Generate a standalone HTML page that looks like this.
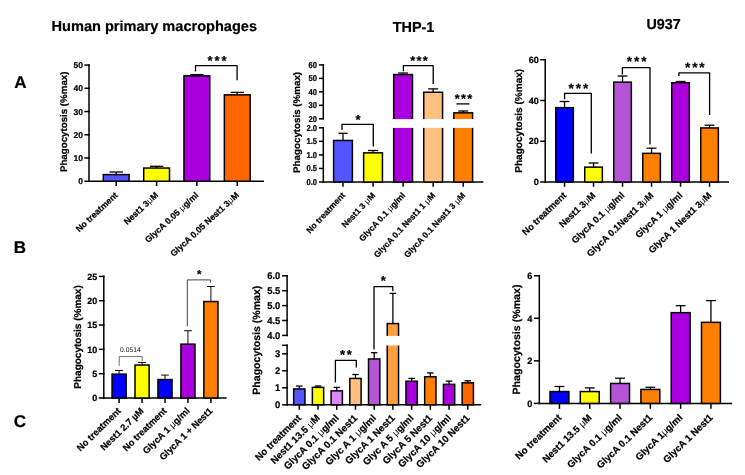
<!DOCTYPE html>
<html><head><meta charset="utf-8"><title>Phagocytosis figure</title>
<style>html,body{margin:0;padding:0;background:#fff;}svg{display:block;will-change:transform;filter:blur(0.4px);}text{text-rendering:geometricPrecision;}text[font-weight=bold]{stroke:#000;stroke-width:.22px;}tspan{stroke:none;}</style></head><body>
<svg width="745" height="475" viewBox="0 0 745 475">
<rect x="0" y="0" width="745" height="475" fill="#ffffff"/>
<text x="51.60" y="31.40" font-family="Liberation Sans, sans-serif" font-size="14.5" font-weight="bold" text-anchor="start" fill="#000" textLength="205.40" lengthAdjust="spacingAndGlyphs">Human primary macrophages</text>
<text x="392.70" y="32.30" font-family="Liberation Sans, sans-serif" font-size="14.5" font-weight="bold" text-anchor="start" fill="#000" textLength="41.70" lengthAdjust="spacingAndGlyphs">THP-1</text>
<text x="646.50" y="28.50" font-family="Liberation Sans, sans-serif" font-size="14.5" font-weight="bold" text-anchor="start" fill="#000" textLength="34.20" lengthAdjust="spacingAndGlyphs">U937</text>
<text x="14.30" y="87.70" font-family="Liberation Sans, sans-serif" font-size="17" font-weight="bold" text-anchor="start" fill="#000">A</text>
<text x="13.80" y="252.50" font-family="Liberation Sans, sans-serif" font-size="17" font-weight="bold" text-anchor="start" fill="#000">B</text>
<text x="13.80" y="427.40" font-family="Liberation Sans, sans-serif" font-size="17" font-weight="bold" text-anchor="start" fill="#000">C</text>
<g id="panelA1">
<line x1="89.00" y1="64.30" x2="89.00" y2="182.00" stroke="#000" stroke-width="1.5"/>
<line x1="84.40" y1="181.25" x2="89.75" y2="181.25" stroke="#000" stroke-width="1.5"/>
<text transform="translate(83.00,184.27) scale(1.0,1)" font-family="Liberation Sans, sans-serif" font-size="8.5" font-weight="bold" text-anchor="end">0</text>
<line x1="84.40" y1="158.01" x2="89.75" y2="158.01" stroke="#000" stroke-width="1.5"/>
<text transform="translate(83.00,161.03) scale(1.0,1)" font-family="Liberation Sans, sans-serif" font-size="8.5" font-weight="bold" text-anchor="end">10</text>
<line x1="84.40" y1="134.77" x2="89.75" y2="134.77" stroke="#000" stroke-width="1.5"/>
<text transform="translate(83.00,137.79) scale(1.0,1)" font-family="Liberation Sans, sans-serif" font-size="8.5" font-weight="bold" text-anchor="end">20</text>
<line x1="84.40" y1="111.53" x2="89.75" y2="111.53" stroke="#000" stroke-width="1.5"/>
<text transform="translate(83.00,114.55) scale(1.0,1)" font-family="Liberation Sans, sans-serif" font-size="8.5" font-weight="bold" text-anchor="end">30</text>
<line x1="84.40" y1="88.29" x2="89.75" y2="88.29" stroke="#000" stroke-width="1.5"/>
<text transform="translate(83.00,91.31) scale(1.0,1)" font-family="Liberation Sans, sans-serif" font-size="8.5" font-weight="bold" text-anchor="end">40</text>
<line x1="84.40" y1="65.05" x2="89.75" y2="65.05" stroke="#000" stroke-width="1.5"/>
<text transform="translate(83.00,68.07) scale(1.0,1)" font-family="Liberation Sans, sans-serif" font-size="8.5" font-weight="bold" text-anchor="end">50</text>
<line x1="88.25" y1="181.25" x2="264.00" y2="181.25" stroke="#000" stroke-width="1.5"/>
<line x1="116.20" y1="181.25" x2="116.20" y2="186.05" stroke="#000" stroke-width="1.5"/>
<line x1="156.60" y1="181.25" x2="156.60" y2="186.05" stroke="#000" stroke-width="1.5"/>
<line x1="196.85" y1="181.25" x2="196.85" y2="186.05" stroke="#000" stroke-width="1.5"/>
<line x1="237.25" y1="181.25" x2="237.25" y2="186.05" stroke="#000" stroke-width="1.5"/>
<line x1="116.20" y1="174.60" x2="116.20" y2="172.00" stroke="#000" stroke-width="1.3"/>
<line x1="109.50" y1="172.00" x2="122.90" y2="172.00" stroke="#000" stroke-width="1.3"/>
<rect x="103.30" y="174.60" width="25.80" height="6.65" fill="#5555ff" stroke="#000" stroke-width="1.5"/>
<line x1="156.60" y1="168.05" x2="156.60" y2="166.30" stroke="#000" stroke-width="1.3"/>
<line x1="149.90" y1="166.30" x2="163.30" y2="166.30" stroke="#000" stroke-width="1.3"/>
<rect x="143.70" y="168.05" width="25.80" height="13.20" fill="#ffff00" stroke="#000" stroke-width="1.5"/>
<line x1="196.85" y1="75.85" x2="196.85" y2="74.60" stroke="#000" stroke-width="1.3"/>
<line x1="190.15" y1="74.60" x2="203.55" y2="74.60" stroke="#000" stroke-width="1.3"/>
<rect x="183.95" y="75.85" width="25.80" height="105.40" fill="#aa00dd" stroke="#000" stroke-width="1.5"/>
<line x1="237.25" y1="94.85" x2="237.25" y2="92.40" stroke="#000" stroke-width="1.3"/>
<line x1="230.55" y1="92.40" x2="243.95" y2="92.40" stroke="#000" stroke-width="1.3"/>
<rect x="224.35" y="94.85" width="25.80" height="86.40" fill="#ff6600" stroke="#000" stroke-width="1.5"/>
<polyline points="195.50,71.50 195.50,65.70 237.10,65.70 237.10,80.30" fill="none" stroke="#000" stroke-width="1.3" stroke-linejoin="round"/>
<text x="207.51" y="64.83" font-family="Liberation Sans, sans-serif" font-size="13.0" font-weight="bold" letter-spacing="1.9">***</text>
<text transform="translate(67.00,121.80) rotate(-90)" font-family="Liberation Sans, sans-serif" font-size="9.6" font-weight="bold" text-anchor="middle" textLength="100.50" lengthAdjust="spacingAndGlyphs">Phagocytosis (%max)</text>
<text transform="translate(118.40,195.90) rotate(-43)" font-family="Liberation Sans, sans-serif" font-size="8.7" font-weight="bold" text-anchor="end">No treatment</text>
<text transform="translate(158.80,195.90) rotate(-43)" font-family="Liberation Sans, sans-serif" font-size="8.7" font-weight="bold" text-anchor="end">Nest1 3<tspan font-weight="normal">&#956;</tspan>M</text>
<text transform="translate(199.05,195.90) rotate(-43)" font-family="Liberation Sans, sans-serif" font-size="8.7" font-weight="bold" text-anchor="end">GlycA 0.05 <tspan font-weight="normal">&#956;</tspan>g/ml</text>
<text transform="translate(239.45,195.90) rotate(-43)" font-family="Liberation Sans, sans-serif" font-size="8.7" font-weight="bold" text-anchor="end">GlycA 0.05 Nest1 3<tspan font-weight="normal">&#956;</tspan>M</text>
</g>
<g id="panelA2">
<line x1="323.30" y1="64.15" x2="323.30" y2="119.55" stroke="#000" stroke-width="1.5"/>
<line x1="318.90" y1="118.80" x2="324.05" y2="118.80" stroke="#000" stroke-width="1.5"/>
<text transform="translate(317.10,121.82) scale(0.9,1)" font-family="Liberation Sans, sans-serif" font-size="8.5" font-weight="bold" text-anchor="end">20</text>
<line x1="318.90" y1="105.33" x2="324.05" y2="105.33" stroke="#000" stroke-width="1.5"/>
<text transform="translate(317.10,108.34) scale(0.9,1)" font-family="Liberation Sans, sans-serif" font-size="8.5" font-weight="bold" text-anchor="end">30</text>
<line x1="318.90" y1="91.85" x2="324.05" y2="91.85" stroke="#000" stroke-width="1.5"/>
<text transform="translate(317.10,94.87) scale(0.9,1)" font-family="Liberation Sans, sans-serif" font-size="8.5" font-weight="bold" text-anchor="end">40</text>
<line x1="318.90" y1="78.38" x2="324.05" y2="78.38" stroke="#000" stroke-width="1.5"/>
<text transform="translate(317.10,81.39) scale(0.9,1)" font-family="Liberation Sans, sans-serif" font-size="8.5" font-weight="bold" text-anchor="end">50</text>
<line x1="318.90" y1="64.90" x2="324.05" y2="64.90" stroke="#000" stroke-width="1.5"/>
<text transform="translate(317.10,67.92) scale(0.9,1)" font-family="Liberation Sans, sans-serif" font-size="8.5" font-weight="bold" text-anchor="end">60</text>
<line x1="323.30" y1="127.05" x2="323.30" y2="182.75" stroke="#000" stroke-width="1.5"/>
<line x1="318.90" y1="182.00" x2="324.05" y2="182.00" stroke="#000" stroke-width="1.5"/>
<text transform="translate(317.10,185.02) scale(0.9,1)" font-family="Liberation Sans, sans-serif" font-size="8.5" font-weight="bold" text-anchor="end">0.0</text>
<line x1="318.90" y1="168.45" x2="324.05" y2="168.45" stroke="#000" stroke-width="1.5"/>
<text transform="translate(317.10,171.47) scale(0.9,1)" font-family="Liberation Sans, sans-serif" font-size="8.5" font-weight="bold" text-anchor="end">0.5</text>
<line x1="318.90" y1="154.90" x2="324.05" y2="154.90" stroke="#000" stroke-width="1.5"/>
<text transform="translate(317.10,157.92) scale(0.9,1)" font-family="Liberation Sans, sans-serif" font-size="8.5" font-weight="bold" text-anchor="end">1.0</text>
<line x1="318.90" y1="141.35" x2="324.05" y2="141.35" stroke="#000" stroke-width="1.5"/>
<text transform="translate(317.10,144.37) scale(0.9,1)" font-family="Liberation Sans, sans-serif" font-size="8.5" font-weight="bold" text-anchor="end">1.5</text>
<line x1="318.90" y1="127.80" x2="324.05" y2="127.80" stroke="#000" stroke-width="1.5"/>
<text transform="translate(317.10,130.82) scale(0.9,1)" font-family="Liberation Sans, sans-serif" font-size="8.5" font-weight="bold" text-anchor="end">2.0</text>
<line x1="322.55" y1="182.00" x2="483.40" y2="182.00" stroke="#000" stroke-width="1.5"/>
<line x1="343.00" y1="182.00" x2="343.00" y2="186.80" stroke="#000" stroke-width="1.5"/>
<line x1="373.05" y1="182.00" x2="373.05" y2="186.80" stroke="#000" stroke-width="1.5"/>
<line x1="403.10" y1="182.00" x2="403.10" y2="186.80" stroke="#000" stroke-width="1.5"/>
<line x1="433.15" y1="182.00" x2="433.15" y2="186.80" stroke="#000" stroke-width="1.5"/>
<line x1="463.20" y1="182.00" x2="463.20" y2="186.80" stroke="#000" stroke-width="1.5"/>
<line x1="343.00" y1="140.45" x2="343.00" y2="133.30" stroke="#000" stroke-width="1.3"/>
<line x1="338.40" y1="133.30" x2="347.60" y2="133.30" stroke="#000" stroke-width="1.3"/>
<rect x="333.60" y="140.45" width="18.80" height="41.55" fill="#5555ff" stroke="#000" stroke-width="1.5"/>
<line x1="373.05" y1="152.85" x2="373.05" y2="150.50" stroke="#000" stroke-width="1.3"/>
<line x1="368.05" y1="150.50" x2="378.05" y2="150.50" stroke="#000" stroke-width="1.3"/>
<rect x="363.65" y="152.85" width="18.80" height="29.15" fill="#ffff00" stroke="#000" stroke-width="1.5"/>
<line x1="403.10" y1="74.55" x2="403.10" y2="73.00" stroke="#000" stroke-width="1.3"/>
<line x1="398.10" y1="73.00" x2="408.10" y2="73.00" stroke="#000" stroke-width="1.3"/>
<rect x="393.70" y="74.55" width="18.80" height="107.45" fill="#aa00dd" stroke="#000" stroke-width="1.5"/>
<line x1="433.15" y1="92.25" x2="433.15" y2="88.90" stroke="#000" stroke-width="1.3"/>
<line x1="428.15" y1="88.90" x2="438.15" y2="88.90" stroke="#000" stroke-width="1.3"/>
<rect x="423.75" y="92.25" width="18.80" height="89.75" fill="#ffc080" stroke="#000" stroke-width="1.5"/>
<line x1="463.20" y1="112.85" x2="463.20" y2="111.00" stroke="#000" stroke-width="1.3"/>
<line x1="458.20" y1="111.00" x2="468.20" y2="111.00" stroke="#000" stroke-width="1.3"/>
<rect x="453.80" y="112.85" width="18.80" height="69.15" fill="#ff8000" stroke="#000" stroke-width="1.5"/>
<rect x="327" y="119.1" width="152" height="8.8" fill="#fff"/>
<polyline points="342.00,130.00 342.00,124.30 373.30,124.30 373.30,146.40" fill="none" stroke="#000" stroke-width="1.3" stroke-linejoin="round"/>
<text x="355.57" y="123.83" font-family="Liberation Sans, sans-serif" font-size="13.0" font-weight="bold" letter-spacing="1.9">*</text>
<polyline points="403.40,71.20 403.40,65.60 433.20,65.60 433.20,83.90" fill="none" stroke="#000" stroke-width="1.3" stroke-linejoin="round"/>
<text x="410.13" y="64.53" font-family="Liberation Sans, sans-serif" font-size="12.8" font-weight="bold" letter-spacing="1.3">***</text>
<line x1="456.40" y1="103.90" x2="469.40" y2="103.90" stroke="#000" stroke-width="1.3"/>
<text x="454.63" y="102.53" font-family="Liberation Sans, sans-serif" font-size="12.8" font-weight="bold" letter-spacing="1.3">***</text>
<text transform="translate(300.10,122.40) rotate(-90)" font-family="Liberation Sans, sans-serif" font-size="9.6" font-weight="bold" text-anchor="middle" textLength="101.00" lengthAdjust="spacingAndGlyphs">Phagocytosis (%max)</text>
<text transform="translate(345.70,195.70) rotate(-47)" font-family="Liberation Sans, sans-serif" font-size="8.5" font-weight="bold" text-anchor="end">No treatment</text>
<text transform="translate(375.75,195.70) rotate(-47)" font-family="Liberation Sans, sans-serif" font-size="8.5" font-weight="bold" text-anchor="end">Nest1 3 <tspan font-weight="normal">&#956;</tspan>M</text>
<text transform="translate(405.80,195.70) rotate(-47)" font-family="Liberation Sans, sans-serif" font-size="8.5" font-weight="bold" text-anchor="end">GlycA 0.1 <tspan font-weight="normal">&#956;</tspan>g/ml</text>
<text transform="translate(435.85,195.70) rotate(-47)" font-family="Liberation Sans, sans-serif" font-size="8.5" font-weight="bold" text-anchor="end">GlycA 0.1 Nest1 1 <tspan font-weight="normal">&#956;</tspan>M</text>
<text transform="translate(465.90,195.70) rotate(-47)" font-family="Liberation Sans, sans-serif" font-size="8.5" font-weight="bold" text-anchor="end">GlycA 0.1 Nest1 3 <tspan font-weight="normal">&#956;</tspan>M</text>
</g>
<g id="panelA3">
<line x1="545.20" y1="59.00" x2="545.20" y2="182.75" stroke="#000" stroke-width="1.5"/>
<line x1="540.20" y1="182.00" x2="545.95" y2="182.00" stroke="#000" stroke-width="1.5"/>
<text transform="translate(538.70,185.19) scale(1.0,1)" font-family="Liberation Sans, sans-serif" font-size="9.0" font-weight="bold" text-anchor="end">0</text>
<line x1="540.20" y1="141.25" x2="545.95" y2="141.25" stroke="#000" stroke-width="1.5"/>
<text transform="translate(538.70,144.44) scale(1.0,1)" font-family="Liberation Sans, sans-serif" font-size="9.0" font-weight="bold" text-anchor="end">20</text>
<line x1="540.20" y1="100.50" x2="545.95" y2="100.50" stroke="#000" stroke-width="1.5"/>
<text transform="translate(538.70,103.69) scale(1.0,1)" font-family="Liberation Sans, sans-serif" font-size="9.0" font-weight="bold" text-anchor="end">40</text>
<line x1="540.20" y1="59.75" x2="545.95" y2="59.75" stroke="#000" stroke-width="1.5"/>
<text transform="translate(538.70,62.95) scale(1.0,1)" font-family="Liberation Sans, sans-serif" font-size="9.0" font-weight="bold" text-anchor="end">60</text>
<line x1="544.45" y1="182.00" x2="729.00" y2="182.00" stroke="#000" stroke-width="1.5"/>
<line x1="564.55" y1="182.00" x2="564.55" y2="186.80" stroke="#000" stroke-width="1.5"/>
<line x1="593.55" y1="182.00" x2="593.55" y2="186.80" stroke="#000" stroke-width="1.5"/>
<line x1="622.55" y1="182.00" x2="622.55" y2="186.80" stroke="#000" stroke-width="1.5"/>
<line x1="651.55" y1="182.00" x2="651.55" y2="186.80" stroke="#000" stroke-width="1.5"/>
<line x1="680.55" y1="182.00" x2="680.55" y2="186.80" stroke="#000" stroke-width="1.5"/>
<line x1="709.55" y1="182.00" x2="709.55" y2="186.80" stroke="#000" stroke-width="1.5"/>
<line x1="564.55" y1="107.65" x2="564.55" y2="101.50" stroke="#000" stroke-width="1.3"/>
<line x1="559.60" y1="101.50" x2="569.50" y2="101.50" stroke="#000" stroke-width="1.3"/>
<rect x="555.75" y="107.65" width="17.60" height="74.35" fill="#0000ff" stroke="#000" stroke-width="1.5"/>
<line x1="593.55" y1="167.15" x2="593.55" y2="163.00" stroke="#000" stroke-width="1.3"/>
<line x1="588.60" y1="163.00" x2="598.50" y2="163.00" stroke="#000" stroke-width="1.3"/>
<rect x="584.75" y="167.15" width="17.60" height="14.85" fill="#ffff00" stroke="#000" stroke-width="1.5"/>
<line x1="622.55" y1="82.15" x2="622.55" y2="76.00" stroke="#000" stroke-width="1.3"/>
<line x1="617.60" y1="76.00" x2="627.50" y2="76.00" stroke="#000" stroke-width="1.3"/>
<rect x="613.75" y="82.15" width="17.60" height="99.85" fill="#b455d8" stroke="#000" stroke-width="1.5"/>
<line x1="651.55" y1="153.35" x2="651.55" y2="148.20" stroke="#000" stroke-width="1.3"/>
<line x1="646.60" y1="148.20" x2="656.50" y2="148.20" stroke="#000" stroke-width="1.3"/>
<rect x="642.75" y="153.35" width="17.60" height="28.65" fill="#ff8000" stroke="#000" stroke-width="1.5"/>
<line x1="680.55" y1="82.75" x2="680.55" y2="81.50" stroke="#000" stroke-width="1.3"/>
<line x1="675.60" y1="81.50" x2="685.50" y2="81.50" stroke="#000" stroke-width="1.3"/>
<rect x="671.75" y="82.75" width="17.60" height="99.25" fill="#aa00dd" stroke="#000" stroke-width="1.5"/>
<line x1="709.55" y1="127.95" x2="709.55" y2="125.20" stroke="#000" stroke-width="1.3"/>
<line x1="704.60" y1="125.20" x2="714.50" y2="125.20" stroke="#000" stroke-width="1.3"/>
<rect x="700.75" y="127.95" width="17.60" height="54.05" fill="#ff8000" stroke="#000" stroke-width="1.5"/>
<polyline points="564.60,99.30 564.60,93.30 591.30,93.30 591.30,153.40" fill="none" stroke="#000" stroke-width="1.3" stroke-linejoin="round"/>
<text x="568.56" y="92.54" font-family="Liberation Sans, sans-serif" font-size="13.6" font-weight="bold" letter-spacing="1.9">***</text>
<polyline points="622.40,74.40 622.40,67.70 650.00,67.70 650.00,144.50" fill="none" stroke="#000" stroke-width="1.3" stroke-linejoin="round"/>
<text x="626.86" y="66.04" font-family="Liberation Sans, sans-serif" font-size="13.6" font-weight="bold" letter-spacing="1.9">***</text>
<polyline points="678.90,75.90 678.90,72.80 709.60,72.80 709.60,115.00" fill="none" stroke="#000" stroke-width="1.3" stroke-linejoin="round"/>
<text x="684.96" y="71.84" font-family="Liberation Sans, sans-serif" font-size="13.6" font-weight="bold" letter-spacing="1.9">***</text>
<text transform="translate(522.00,120.80) rotate(-90)" font-family="Liberation Sans, sans-serif" font-size="10" font-weight="bold" text-anchor="middle" textLength="104.00" lengthAdjust="spacingAndGlyphs">Phagocytosis (%max)</text>
<text transform="translate(567.05,196.00) rotate(-44)" font-family="Liberation Sans, sans-serif" font-size="9.3" font-weight="bold" text-anchor="end">No treatment</text>
<text transform="translate(596.05,196.00) rotate(-44)" font-family="Liberation Sans, sans-serif" font-size="9.3" font-weight="bold" text-anchor="end">Nest1 3<tspan font-weight="normal">&#956;</tspan>M</text>
<text transform="translate(625.05,196.00) rotate(-44)" font-family="Liberation Sans, sans-serif" font-size="9.3" font-weight="bold" text-anchor="end">GlycA 0.1 <tspan font-weight="normal">&#956;</tspan>g/ml</text>
<text transform="translate(654.05,196.00) rotate(-44)" font-family="Liberation Sans, sans-serif" font-size="9.3" font-weight="bold" text-anchor="end">GlycA 0.1Nest1 3<tspan font-weight="normal">&#956;</tspan>M</text>
<text transform="translate(683.05,196.00) rotate(-44)" font-family="Liberation Sans, sans-serif" font-size="9.3" font-weight="bold" text-anchor="end">GlycA 1 <tspan font-weight="normal">&#956;</tspan>g/ml</text>
<text transform="translate(712.05,196.00) rotate(-44)" font-family="Liberation Sans, sans-serif" font-size="9.3" font-weight="bold" text-anchor="end">GlycA 1 Nest1 3<tspan font-weight="normal">&#956;</tspan>M</text>
</g>
<g id="panelB1">
<line x1="103.80" y1="275.65" x2="103.80" y2="398.75" stroke="#000" stroke-width="1.5"/>
<line x1="98.80" y1="398.00" x2="104.55" y2="398.00" stroke="#000" stroke-width="1.5"/>
<text transform="translate(97.30,401.19) scale(1.0,1)" font-family="Liberation Sans, sans-serif" font-size="9.0" font-weight="bold" text-anchor="end">0</text>
<line x1="98.80" y1="373.68" x2="104.55" y2="373.68" stroke="#000" stroke-width="1.5"/>
<text transform="translate(97.30,376.88) scale(1.0,1)" font-family="Liberation Sans, sans-serif" font-size="9.0" font-weight="bold" text-anchor="end">5</text>
<line x1="98.80" y1="349.36" x2="104.55" y2="349.36" stroke="#000" stroke-width="1.5"/>
<text transform="translate(97.30,352.56) scale(1.0,1)" font-family="Liberation Sans, sans-serif" font-size="9.0" font-weight="bold" text-anchor="end">10</text>
<line x1="98.80" y1="325.04" x2="104.55" y2="325.04" stroke="#000" stroke-width="1.5"/>
<text transform="translate(97.30,328.24) scale(1.0,1)" font-family="Liberation Sans, sans-serif" font-size="9.0" font-weight="bold" text-anchor="end">15</text>
<line x1="98.80" y1="300.72" x2="104.55" y2="300.72" stroke="#000" stroke-width="1.5"/>
<text transform="translate(97.30,303.92) scale(1.0,1)" font-family="Liberation Sans, sans-serif" font-size="9.0" font-weight="bold" text-anchor="end">20</text>
<line x1="98.80" y1="276.40" x2="104.55" y2="276.40" stroke="#000" stroke-width="1.5"/>
<text transform="translate(97.30,279.59) scale(1.0,1)" font-family="Liberation Sans, sans-serif" font-size="9.0" font-weight="bold" text-anchor="end">25</text>
<line x1="103.05" y1="398.00" x2="226.70" y2="398.00" stroke="#000" stroke-width="1.5"/>
<line x1="119.10" y1="398.00" x2="119.10" y2="403.00" stroke="#000" stroke-width="1.5"/>
<line x1="142.05" y1="398.00" x2="142.05" y2="403.00" stroke="#000" stroke-width="1.5"/>
<line x1="165.00" y1="398.00" x2="165.00" y2="403.00" stroke="#000" stroke-width="1.5"/>
<line x1="187.95" y1="398.00" x2="187.95" y2="403.00" stroke="#000" stroke-width="1.5"/>
<line x1="210.90" y1="398.00" x2="210.90" y2="403.00" stroke="#000" stroke-width="1.5"/>
<line x1="119.10" y1="374.15" x2="119.10" y2="370.50" stroke="#000" stroke-width="0.95"/>
<line x1="115.00" y1="370.50" x2="123.20" y2="370.50" stroke="#000" stroke-width="0.95"/>
<rect x="112.05" y="374.15" width="14.10" height="23.85" fill="#0000ff" stroke="#000" stroke-width="1.5"/>
<line x1="142.05" y1="365.05" x2="142.05" y2="362.40" stroke="#000" stroke-width="0.95"/>
<line x1="137.95" y1="362.40" x2="146.15" y2="362.40" stroke="#000" stroke-width="0.95"/>
<rect x="135.00" y="365.05" width="14.10" height="32.95" fill="#ffff00" stroke="#000" stroke-width="1.5"/>
<line x1="165.00" y1="379.55" x2="165.00" y2="375.10" stroke="#000" stroke-width="0.95"/>
<line x1="161.10" y1="375.10" x2="168.90" y2="375.10" stroke="#000" stroke-width="0.95"/>
<rect x="157.95" y="379.55" width="14.10" height="18.45" fill="#0000ff" stroke="#000" stroke-width="1.5"/>
<line x1="187.95" y1="344.15" x2="187.95" y2="330.70" stroke="#000" stroke-width="0.95"/>
<line x1="184.05" y1="330.70" x2="191.85" y2="330.70" stroke="#000" stroke-width="0.95"/>
<rect x="180.90" y="344.15" width="14.10" height="53.85" fill="#aa00dd" stroke="#000" stroke-width="1.5"/>
<line x1="210.90" y1="301.55" x2="210.90" y2="286.50" stroke="#000" stroke-width="0.95"/>
<line x1="207.00" y1="286.50" x2="214.80" y2="286.50" stroke="#000" stroke-width="0.95"/>
<rect x="203.85" y="301.55" width="14.10" height="96.45" fill="#ff8000" stroke="#000" stroke-width="1.5"/>
<polyline points="119.20,365.90 119.20,356.60 142.20,356.60 142.20,361.10" fill="none" stroke="#333" stroke-width="0.7" stroke-linejoin="round"/>
<text x="130.40" y="351.50" font-family="Liberation Sans, sans-serif" font-size="6.8" font-weight="normal" text-anchor="middle" fill="#222">0.0514</text>
<polyline points="187.30,326.40 187.30,279.90 210.60,279.90 210.60,282.70" fill="none" stroke="#222" stroke-width="0.85" stroke-linejoin="round"/>
<text x="197.06" y="277.67" font-family="Liberation Sans, sans-serif" font-size="11.5" font-weight="bold" letter-spacing="1.9">*</text>
<text transform="translate(80.60,337.00) rotate(-90)" font-family="Liberation Sans, sans-serif" font-size="10" font-weight="bold" text-anchor="middle" textLength="103.50" lengthAdjust="spacingAndGlyphs">Phagocytosis (%max)</text>
<text transform="translate(121.40,411.50) rotate(-44.5)" font-family="Liberation Sans, sans-serif" font-size="9.3" font-weight="bold" text-anchor="end">No treatment</text>
<text transform="translate(144.35,411.50) rotate(-44.5)" font-family="Liberation Sans, sans-serif" font-size="9.3" font-weight="bold" text-anchor="end">Nest1 2.7 &#181;M</text>
<text transform="translate(167.30,411.50) rotate(-44.5)" font-family="Liberation Sans, sans-serif" font-size="9.3" font-weight="bold" text-anchor="end">No treatment</text>
<text transform="translate(190.25,411.50) rotate(-44.5)" font-family="Liberation Sans, sans-serif" font-size="9.3" font-weight="bold" text-anchor="end">GlycA 1 <tspan font-weight="normal">&#956;</tspan>g/ml</text>
<text transform="translate(213.20,411.50) rotate(-44.5)" font-family="Liberation Sans, sans-serif" font-size="9.3" font-weight="bold" text-anchor="end">GlycA 1 + Nest1</text>
</g>
<g id="panelB2">
<line x1="287.10" y1="275.05" x2="287.10" y2="336.15" stroke="#000" stroke-width="1.5"/>
<line x1="282.10" y1="335.40" x2="287.85" y2="335.40" stroke="#000" stroke-width="1.5"/>
<text transform="translate(280.30,338.84) scale(0.97,1)" font-family="Liberation Sans, sans-serif" font-size="9.7" font-weight="bold" text-anchor="end">4.0</text>
<line x1="282.10" y1="320.50" x2="287.85" y2="320.50" stroke="#000" stroke-width="1.5"/>
<text transform="translate(280.30,323.94) scale(0.97,1)" font-family="Liberation Sans, sans-serif" font-size="9.7" font-weight="bold" text-anchor="end">4.5</text>
<line x1="282.10" y1="305.60" x2="287.85" y2="305.60" stroke="#000" stroke-width="1.5"/>
<text transform="translate(280.30,309.04) scale(0.97,1)" font-family="Liberation Sans, sans-serif" font-size="9.7" font-weight="bold" text-anchor="end">5.0</text>
<line x1="282.10" y1="290.70" x2="287.85" y2="290.70" stroke="#000" stroke-width="1.5"/>
<text transform="translate(280.30,294.14) scale(0.97,1)" font-family="Liberation Sans, sans-serif" font-size="9.7" font-weight="bold" text-anchor="end">5.5</text>
<line x1="282.10" y1="275.80" x2="287.85" y2="275.80" stroke="#000" stroke-width="1.5"/>
<text transform="translate(280.30,279.24) scale(0.97,1)" font-family="Liberation Sans, sans-serif" font-size="9.7" font-weight="bold" text-anchor="end">6.0</text>
<line x1="287.10" y1="344.55" x2="287.10" y2="405.55" stroke="#000" stroke-width="1.5"/>
<line x1="282.10" y1="345.30" x2="287.85" y2="345.30" stroke="#000" stroke-width="1.5"/>
<line x1="282.10" y1="404.80" x2="287.85" y2="404.80" stroke="#000" stroke-width="1.5"/>
<text transform="translate(280.30,408.24) scale(0.97,1)" font-family="Liberation Sans, sans-serif" font-size="9.7" font-weight="bold" text-anchor="end">0</text>
<line x1="282.10" y1="387.80" x2="287.85" y2="387.80" stroke="#000" stroke-width="1.5"/>
<text transform="translate(280.30,391.24) scale(0.97,1)" font-family="Liberation Sans, sans-serif" font-size="9.7" font-weight="bold" text-anchor="end">1</text>
<line x1="282.10" y1="370.80" x2="287.85" y2="370.80" stroke="#000" stroke-width="1.5"/>
<text transform="translate(280.30,374.24) scale(0.97,1)" font-family="Liberation Sans, sans-serif" font-size="9.7" font-weight="bold" text-anchor="end">2</text>
<line x1="282.10" y1="353.80" x2="287.85" y2="353.80" stroke="#000" stroke-width="1.5"/>
<text transform="translate(280.30,357.24) scale(0.97,1)" font-family="Liberation Sans, sans-serif" font-size="9.7" font-weight="bold" text-anchor="end">3</text>
<line x1="286.35" y1="404.80" x2="481.20" y2="404.80" stroke="#000" stroke-width="1.5"/>
<line x1="299.30" y1="404.80" x2="299.30" y2="409.80" stroke="#000" stroke-width="1.5"/>
<line x1="318.02" y1="404.80" x2="318.02" y2="409.80" stroke="#000" stroke-width="1.5"/>
<line x1="336.74" y1="404.80" x2="336.74" y2="409.80" stroke="#000" stroke-width="1.5"/>
<line x1="355.46" y1="404.80" x2="355.46" y2="409.80" stroke="#000" stroke-width="1.5"/>
<line x1="374.18" y1="404.80" x2="374.18" y2="409.80" stroke="#000" stroke-width="1.5"/>
<line x1="392.90" y1="404.80" x2="392.90" y2="409.80" stroke="#000" stroke-width="1.5"/>
<line x1="411.62" y1="404.80" x2="411.62" y2="409.80" stroke="#000" stroke-width="1.5"/>
<line x1="430.34" y1="404.80" x2="430.34" y2="409.80" stroke="#000" stroke-width="1.5"/>
<line x1="449.06" y1="404.80" x2="449.06" y2="409.80" stroke="#000" stroke-width="1.5"/>
<line x1="467.78" y1="404.80" x2="467.78" y2="409.80" stroke="#000" stroke-width="1.5"/>
<line x1="299.30" y1="388.95" x2="299.30" y2="386.10" stroke="#000" stroke-width="1.3"/>
<line x1="296.05" y1="386.10" x2="302.55" y2="386.10" stroke="#000" stroke-width="1.3"/>
<rect x="293.65" y="388.95" width="11.30" height="15.85" fill="#5555ff" stroke="#000" stroke-width="1.5"/>
<line x1="318.02" y1="387.35" x2="318.02" y2="386.00" stroke="#000" stroke-width="1.3"/>
<line x1="314.77" y1="386.00" x2="321.27" y2="386.00" stroke="#000" stroke-width="1.3"/>
<rect x="312.37" y="387.35" width="11.30" height="17.45" fill="#ffff00" stroke="#000" stroke-width="1.5"/>
<line x1="336.74" y1="390.85" x2="336.74" y2="387.40" stroke="#000" stroke-width="1.3"/>
<line x1="333.49" y1="387.40" x2="339.99" y2="387.40" stroke="#000" stroke-width="1.3"/>
<rect x="331.09" y="390.85" width="11.30" height="13.95" fill="#dd88ff" stroke="#000" stroke-width="1.5"/>
<line x1="355.46" y1="378.45" x2="355.46" y2="374.50" stroke="#000" stroke-width="1.3"/>
<line x1="352.21" y1="374.50" x2="358.71" y2="374.50" stroke="#000" stroke-width="1.3"/>
<rect x="349.81" y="378.45" width="11.30" height="26.35" fill="#ffc080" stroke="#000" stroke-width="1.5"/>
<line x1="374.18" y1="358.95" x2="374.18" y2="352.70" stroke="#000" stroke-width="1.3"/>
<line x1="370.93" y1="352.70" x2="377.43" y2="352.70" stroke="#000" stroke-width="1.3"/>
<rect x="368.53" y="358.95" width="11.30" height="45.85" fill="#b455d8" stroke="#000" stroke-width="1.5"/>
<line x1="392.90" y1="323.55" x2="392.90" y2="293.40" stroke="#000" stroke-width="1.3"/>
<line x1="389.65" y1="293.40" x2="396.15" y2="293.40" stroke="#000" stroke-width="1.3"/>
<rect x="387.25" y="323.55" width="11.30" height="81.25" fill="#ffa040" stroke="#000" stroke-width="1.5"/>
<line x1="411.62" y1="381.25" x2="411.62" y2="378.40" stroke="#000" stroke-width="1.3"/>
<line x1="408.37" y1="378.40" x2="414.87" y2="378.40" stroke="#000" stroke-width="1.3"/>
<rect x="405.97" y="381.25" width="11.30" height="23.55" fill="#aa00dd" stroke="#000" stroke-width="1.5"/>
<line x1="430.34" y1="376.75" x2="430.34" y2="372.90" stroke="#000" stroke-width="1.3"/>
<line x1="427.09" y1="372.90" x2="433.59" y2="372.90" stroke="#000" stroke-width="1.3"/>
<rect x="424.69" y="376.75" width="11.30" height="28.05" fill="#ff8000" stroke="#000" stroke-width="1.5"/>
<line x1="449.06" y1="384.35" x2="449.06" y2="381.10" stroke="#000" stroke-width="1.3"/>
<line x1="445.81" y1="381.10" x2="452.31" y2="381.10" stroke="#000" stroke-width="1.3"/>
<rect x="443.41" y="384.35" width="11.30" height="20.45" fill="#aa00dd" stroke="#000" stroke-width="1.5"/>
<line x1="467.78" y1="382.85" x2="467.78" y2="380.80" stroke="#000" stroke-width="1.3"/>
<line x1="464.53" y1="380.80" x2="471.03" y2="380.80" stroke="#000" stroke-width="1.3"/>
<rect x="462.13" y="382.85" width="11.30" height="21.95" fill="#ff6600" stroke="#000" stroke-width="1.5"/>
<rect x="384" y="335.9" width="20" height="9.6" fill="#fff"/>
<polyline points="335.40,382.40 335.40,360.30 356.30,360.30 356.30,367.60" fill="none" stroke="#000" stroke-width="1.3" stroke-linejoin="round"/>
<text x="339.89" y="358.93" font-family="Liberation Sans, sans-serif" font-size="13.0" font-weight="bold" letter-spacing="1.9">**</text>
<polyline points="374.00,349.50 374.00,286.60 392.80,286.60 392.80,291.30" fill="none" stroke="#000" stroke-width="1.3" stroke-linejoin="round"/>
<text x="380.87" y="285.23" font-family="Liberation Sans, sans-serif" font-size="13.0" font-weight="bold" letter-spacing="1.9">*</text>
<text transform="translate(260.13,340.20) rotate(-90)" font-family="Liberation Sans, sans-serif" font-size="10.5" font-weight="bold" text-anchor="middle" textLength="109.00" lengthAdjust="spacingAndGlyphs">Phagocytosis (%max)</text>
<text transform="translate(301.90,418.60) rotate(-44.8)" font-family="Liberation Sans, sans-serif" font-size="9.8" font-weight="bold" text-anchor="end">No treatment</text>
<text transform="translate(320.62,418.60) rotate(-44.8)" font-family="Liberation Sans, sans-serif" font-size="9.8" font-weight="bold" text-anchor="end">Nest1 13.5 <tspan font-weight="normal">&#956;</tspan>M</text>
<text transform="translate(339.34,418.60) rotate(-44.8)" font-family="Liberation Sans, sans-serif" font-size="9.8" font-weight="bold" text-anchor="end">GlycA 0.1 <tspan font-weight="normal">&#956;</tspan>g/ml</text>
<text transform="translate(358.06,418.60) rotate(-44.8)" font-family="Liberation Sans, sans-serif" font-size="9.8" font-weight="bold" text-anchor="end">GlycA 0.1 Nest1</text>
<text transform="translate(376.78,418.60) rotate(-44.8)" font-family="Liberation Sans, sans-serif" font-size="9.8" font-weight="bold" text-anchor="end">Glyc A 1 <tspan font-weight="normal">&#956;</tspan>g/ml</text>
<text transform="translate(395.50,418.60) rotate(-44.8)" font-family="Liberation Sans, sans-serif" font-size="9.8" font-weight="bold" text-anchor="end">GlycA 1 Nest1</text>
<text transform="translate(414.22,418.60) rotate(-44.8)" font-family="Liberation Sans, sans-serif" font-size="9.8" font-weight="bold" text-anchor="end">Glyc A 5 <tspan font-weight="normal">&#956;</tspan>g/ml</text>
<text transform="translate(432.94,418.60) rotate(-44.8)" font-family="Liberation Sans, sans-serif" font-size="9.8" font-weight="bold" text-anchor="end">GlycA 5 Nest1</text>
<text transform="translate(451.66,418.60) rotate(-44.8)" font-family="Liberation Sans, sans-serif" font-size="9.8" font-weight="bold" text-anchor="end">GlycA 10 <tspan font-weight="normal">&#956;</tspan>g/ml</text>
<text transform="translate(470.38,418.60) rotate(-44.8)" font-family="Liberation Sans, sans-serif" font-size="9.8" font-weight="bold" text-anchor="end">GlycA 10 Nest1</text>
</g>
<g id="panelB3">
<line x1="539.30" y1="275.00" x2="539.30" y2="404.15" stroke="#000" stroke-width="1.5"/>
<line x1="533.90" y1="403.40" x2="540.05" y2="403.40" stroke="#000" stroke-width="1.5"/>
<text transform="translate(532.40,406.67) scale(1.0,1)" font-family="Liberation Sans, sans-serif" font-size="9.2" font-weight="bold" text-anchor="end">0</text>
<line x1="533.90" y1="360.85" x2="540.05" y2="360.85" stroke="#000" stroke-width="1.5"/>
<text transform="translate(532.40,364.12) scale(1.0,1)" font-family="Liberation Sans, sans-serif" font-size="9.2" font-weight="bold" text-anchor="end">2</text>
<line x1="533.90" y1="318.30" x2="540.05" y2="318.30" stroke="#000" stroke-width="1.5"/>
<text transform="translate(532.40,321.57) scale(1.0,1)" font-family="Liberation Sans, sans-serif" font-size="9.2" font-weight="bold" text-anchor="end">4</text>
<line x1="533.90" y1="275.75" x2="540.05" y2="275.75" stroke="#000" stroke-width="1.5"/>
<text transform="translate(532.40,279.02) scale(1.0,1)" font-family="Liberation Sans, sans-serif" font-size="9.2" font-weight="bold" text-anchor="end">6</text>
<line x1="538.55" y1="403.40" x2="732.10" y2="403.40" stroke="#000" stroke-width="1.5"/>
<line x1="559.45" y1="403.40" x2="559.45" y2="408.80" stroke="#000" stroke-width="1.5"/>
<line x1="589.75" y1="403.40" x2="589.75" y2="408.80" stroke="#000" stroke-width="1.5"/>
<line x1="620.05" y1="403.40" x2="620.05" y2="408.80" stroke="#000" stroke-width="1.5"/>
<line x1="650.35" y1="403.40" x2="650.35" y2="408.80" stroke="#000" stroke-width="1.5"/>
<line x1="680.65" y1="403.40" x2="680.65" y2="408.80" stroke="#000" stroke-width="1.5"/>
<line x1="710.95" y1="403.40" x2="710.95" y2="408.80" stroke="#000" stroke-width="1.5"/>
<line x1="559.45" y1="391.55" x2="559.45" y2="386.50" stroke="#000" stroke-width="1.3"/>
<line x1="554.55" y1="386.50" x2="564.35" y2="386.50" stroke="#000" stroke-width="1.3"/>
<rect x="550.00" y="391.55" width="18.90" height="11.85" fill="#0000ff" stroke="#000" stroke-width="1.5"/>
<line x1="589.75" y1="391.55" x2="589.75" y2="387.90" stroke="#000" stroke-width="1.3"/>
<line x1="584.85" y1="387.90" x2="594.65" y2="387.90" stroke="#000" stroke-width="1.3"/>
<rect x="580.30" y="391.55" width="18.90" height="11.85" fill="#ffff00" stroke="#000" stroke-width="1.5"/>
<line x1="620.05" y1="383.45" x2="620.05" y2="378.20" stroke="#000" stroke-width="1.3"/>
<line x1="615.15" y1="378.20" x2="624.95" y2="378.20" stroke="#000" stroke-width="1.3"/>
<rect x="610.60" y="383.45" width="18.90" height="19.95" fill="#b455d8" stroke="#000" stroke-width="1.5"/>
<line x1="650.35" y1="389.45" x2="650.35" y2="387.30" stroke="#000" stroke-width="1.3"/>
<line x1="645.45" y1="387.30" x2="655.25" y2="387.30" stroke="#000" stroke-width="1.3"/>
<rect x="640.90" y="389.45" width="18.90" height="13.95" fill="#ff8000" stroke="#000" stroke-width="1.5"/>
<line x1="680.65" y1="312.65" x2="680.65" y2="305.70" stroke="#000" stroke-width="1.3"/>
<line x1="675.75" y1="305.70" x2="685.55" y2="305.70" stroke="#000" stroke-width="1.3"/>
<rect x="671.20" y="312.65" width="18.90" height="90.75" fill="#aa00dd" stroke="#000" stroke-width="1.5"/>
<line x1="710.95" y1="322.35" x2="710.95" y2="300.60" stroke="#000" stroke-width="1.3"/>
<line x1="706.05" y1="300.60" x2="715.85" y2="300.60" stroke="#000" stroke-width="1.3"/>
<rect x="701.50" y="322.35" width="18.90" height="81.05" fill="#ff8000" stroke="#000" stroke-width="1.5"/>
<text transform="translate(520.13,339.50) rotate(-90)" font-family="Liberation Sans, sans-serif" font-size="10.5" font-weight="bold" text-anchor="middle" textLength="110.00" lengthAdjust="spacingAndGlyphs">Phagocytosis (%max)</text>
<text transform="translate(561.95,418.30) rotate(-44.2)" font-family="Liberation Sans, sans-serif" font-size="9.7" font-weight="bold" text-anchor="end">No treatment</text>
<text transform="translate(592.25,418.30) rotate(-44.2)" font-family="Liberation Sans, sans-serif" font-size="9.7" font-weight="bold" text-anchor="end">Nest1 13.5 <tspan font-weight="normal">&#956;</tspan>M</text>
<text transform="translate(622.55,418.30) rotate(-44.2)" font-family="Liberation Sans, sans-serif" font-size="9.7" font-weight="bold" text-anchor="end">GlycA 0.1 <tspan font-weight="normal">&#956;</tspan>g/ml</text>
<text transform="translate(652.85,418.30) rotate(-44.2)" font-family="Liberation Sans, sans-serif" font-size="9.7" font-weight="bold" text-anchor="end">GlycA 0.1 Nest1</text>
<text transform="translate(683.15,418.30) rotate(-44.2)" font-family="Liberation Sans, sans-serif" font-size="9.7" font-weight="bold" text-anchor="end">GlycA 1<tspan font-weight="normal">&#956;</tspan>g/ml</text>
<text transform="translate(713.45,418.30) rotate(-44.2)" font-family="Liberation Sans, sans-serif" font-size="9.7" font-weight="bold" text-anchor="end">GlycA 1 Nest1</text>
</g>
</svg></body></html>
